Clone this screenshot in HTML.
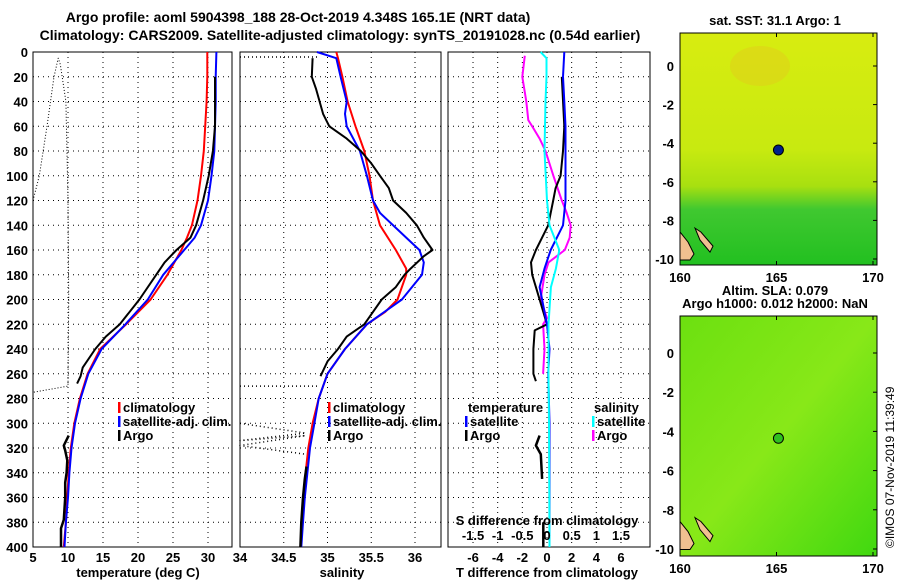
<!DOCTYPE html>
<html><head><meta charset="utf-8">
<style>
html,body{margin:0;padding:0;background:#fff;}
svg{display:block;font-family:"Liberation Sans",sans-serif;font-weight:bold;}
text{font-size:13px;fill:#000;}
</style></head>
<body>
<svg id="fig" width="900" height="580" viewBox="0 0 900 580" xmlns="http://www.w3.org/2000/svg">
<defs>
<linearGradient id="sstg" x1="0" y1="0" x2="0" y2="1">
<stop offset="0" stop-color="#d8ec10"/><stop offset="0.5" stop-color="#c8ea10"/>
<stop offset="0.66" stop-color="#a8e010"/><stop offset="0.76" stop-color="#40c830"/>
<stop offset="1" stop-color="#22c020"/></linearGradient>
<linearGradient id="slag" x1="0" y1="0" x2="1" y2="1">
<stop offset="0" stop-color="#6ce010"/><stop offset="0.5" stop-color="#88e818"/>
<stop offset="1" stop-color="#40d810"/></linearGradient>
</defs>
<text x="298" y="22" text-anchor="middle" style="font-size:14px">Argo profile: aoml 5904398_188 28-Oct-2019 4.348S 165.1E (NRT data)</text>
<text x="340" y="40" text-anchor="middle" style="font-size:14px">Climatology: CARS2009. Satellite-adjusted climatology: synTS_20191028.nc (0.54d earlier)</text>
<g id="p1"></g>
<g id="p2"></g>
<g id="p3"></g>
<g id="maps"></g>
<text transform="translate(894,548) rotate(-90)" style="font-size:12px;font-weight:normal">©IMOS 07-Nov-2019 11:39:49</text>
</svg>
<script>
// ---- data ----
const tClimDepth=[0,20,40,60,80,100,120,140,150,160,170,180,200,220,240,260,280,300,320,340,360,380,400];
const tClim=[29.9,29.9,29.8,29.6,29.4,29.0,28.5,27.7,27.0,26.2,25.2,24.2,21.8,18.3,14.6,12.8,11.7,10.9,10.4,10.1,9.9,9.7,9.4];
const tSat=[31.2,31.1,31.1,31.0,30.9,30.5,30.0,29.0,28.1,26.6,25.1,23.6,21.4,18.2,14.8,12.9,11.8,11.0,10.5,10.2,10.0,9.7,9.5];
const tArgoDepth1=[20,40,60,80,100,120,140,150,160,170,180,200,220,230,240,255,262,268];
const tArgo1=[31.0,31.0,31.0,30.7,30.1,29.3,28.3,27.5,25.5,23.8,22.6,20.2,17.4,15.4,13.9,12.1,11.8,11.3];
const tArgoDepth2=[310,318,322,330,340,348,360,378,385,400];
const tArgo2=[10.1,9.4,9.6,9.9,9.8,9.6,9.6,9.4,9.0,9.0];
const tBadDepth=[120,100,60,20,5,10,40,120,200,270,275];
const tBad=[5.0,5.9,7.0,8.0,8.6,8.9,9.7,10.0,10.1,10.0,5.0];
const sClimDepth=[0,5,20,40,60,80,100,120,140,160,175,180,200,210,220,240,260,280,300,320,340,360,380,400];
const sClim=[35.1,35.12,35.17,35.23,35.32,35.42,35.48,35.52,35.6,35.78,35.9,35.9,35.8,35.66,35.45,35.2,35.0,34.9,34.83,34.78,34.75,34.73,34.71,34.69];
const sSatDepth=[0,5,20,40,50,60,80,100,120,130,150,160,170,180,200,220,240,260,280,300,320,340,360,380,400];
const sSat=[34.88,35.1,35.15,35.22,35.2,35.22,35.37,35.45,35.52,35.6,35.9,36.05,36.1,36.08,35.85,35.45,35.2,35.0,34.9,34.85,34.8,34.77,34.74,34.72,34.7];
const sArgoDepth1=[5,20,30,50,60,70,80,90,100,110,120,130,140,150,160,165,175,180,190,200,210,220,230,240,250,262];
const sArgo1=[34.83,34.82,34.87,34.95,35.02,35.22,35.38,35.5,35.6,35.7,35.75,35.9,36.02,36.1,36.2,36.1,35.95,35.88,35.78,35.62,35.52,35.42,35.22,35.12,35.0,34.92];
const sArgoDepth2=[335,345,360,380,400];
const sArgo2=[34.76,34.74,34.72,34.7,34.69];
const dTSatDepth=[0,20,40,60,80,100,120,140,150,160,175,190,200,210,220,240,260,300,340,400];
const dTSat=[1.4,1.3,1.4,1.5,1.5,1.5,1.5,1.3,0.8,0.3,-0.2,-0.6,-0.4,-0.2,0.0,0.2,0.1,0.2,0.2,0.2];
const dTArgoDepth1=[20,60,80,100,110,120,130,140,150,160,170,180,190,200,210,220,225,240,260,266];
const dTArgo1=[1.2,1.4,1.3,1.1,0.7,0.5,0.3,0.1,-0.4,-0.9,-1.3,-1.2,-0.9,-0.6,-0.3,0.0,-1.0,-1.1,-1.1,-0.9];
const dTArgoDepth2=[310,318,325,345];
const dTArgo2=[-0.6,-0.9,-0.5,-0.4];
const dTArgoDepth3=[380,400];
const dTArgo3=[-0.3,-0.3];
const dSSatDepth=[0,5,20,40,80,120,140,150,160,175,190,220,260,300,400];
const dSSat=[-0.13,-0.01,-0.01,-0.03,-0.05,0,0.05,0.15,0.25,0.18,0.08,0.03,0.03,0.04,0.05];
const dSArgoDepth=[3,20,40,55,60,70,80,100,120,130,140,150,160,170,180,200,215,220,240,260];
const dSArgo=[-0.45,-0.5,-0.42,-0.38,-0.3,-0.15,-0.03,0.13,0.3,0.4,0.48,0.46,0.36,0.03,-0.05,-0.13,0,-0.08,-0.05,-0.08];
const depthTicks=[0,20,40,60,80,100,120,140,160,180,200,220,240,260,280,300,320,340,360,380,400];
const tTicks=[5,10,15,20,25,30];
const sTicks=[34,34.5,35,35.5,36];
const dTTicks=[-6,-4,-2,0,2,4,6];
const dSTickLabels=["-1.5","-1","-0.5","0","0.5","1","1.5"];
const dSTicks=[-1.5,-1,-0.5,0,0.5,1,1.5];
const lonTicks=[160,165,170];
const latTicks=[0,-2,-4,-6,-8,-10];

// ---- helpers ----
const NS="http://www.w3.org/2000/svg";
function mk(tag,attrs,parent){const e=document.createElementNS(NS,tag);for(const k in attrs)e.setAttribute(k,attrs[k]);parent.appendChild(e);return e;}
const TOP=52,BOT=547;
const yD=d=>TOP+d*(BOT-TOP)/400;
function panel(g,x0,x1,xs,xTicks,xLabels,name){
  const fr=mk('rect',{x:x0,y:TOP,width:x1-x0,height:BOT-TOP,fill:'none',stroke:'#000','stroke-width':1},g);
  
  
  depthTicks.forEach(d=>{if(d>0&&d<400){const l=mk('line',{x1:x0,x2:x1,y1:yD(d),y2:yD(d),stroke:'#000','stroke-dasharray':'1,4'},g);
    
    }});
  xTicks.forEach((v,i)=>{const x=xs(v);
    if(x>x0+1&&x<x1-1){const l=mk('line',{x1:x,x2:x,y1:TOP,y2:BOT,stroke:'#000','stroke-dasharray':'1,4'},g);
    
    }
    if(xLabels){const t=mk('text',{x:x,y:562,'text-anchor':'middle'},g);t.textContent=xLabels[i];
    
    }});
}
function line(g,xs,vals,depths,color,w,name,dash){
  const pts=vals.map((v,i)=>xs(v).toFixed(1)+','+yD(depths[i]).toFixed(1)).join(' ');
  const a={points:pts,fill:'none',stroke:color,'stroke-width':w,'stroke-linejoin':'round'};
  if(dash)a['stroke-dasharray']=dash;
  const p=mk('polyline',a,g);
  
  
}
function txt(g,x,y,s,name,anchor){const t=mk('text',{x:x,y:y,'text-anchor':anchor||'start'},g);t.textContent=s;
  
  return t;}
function legend(g,x,y,color,label,name){
  const r=mk('rect',{x:x,y:y-10,width:2.5,height:11,fill:color},g);
  
  
  txt(g,x+5,y,label,name);
}

// ---- panel 1: temperature ----
const p1=document.getElementById('p1');
const xT=v=>33+(v-5)*7.0;
panel(p1,33,232,xT,tTicks,tTicks.map(String),'temperature');
depthTicks.forEach(d=>txt(p1,28,yD(d)+5,String(d),'depth-tick-label','end'));
line(p1,xT,tBad,tBadDepth,'#000',1,'temperature-flagged-argo','1,2');
line(p1,xT,tClim,tClimDepth,'#f00',2,'temperature-climatology-line');
line(p1,xT,tSat,tClimDepth,'#00f',2,'temperature-satellite-line');
line(p1,xT,tArgo1,tArgoDepth1,'#000',2,'temperature-argo-line');
line(p1,xT,tArgo2,tArgoDepth2,'#000',2.5,'temperature-argo-deep-line');
legend(p1,118,412,'#f00','climatology','legend-climatology');
legend(p1,118,426,'#00f','satellite-adj. clim.','legend-satellite-adj');
legend(p1,118,440,'#000','Argo','legend-argo');
txt(p1,138,577,'temperature (deg C)','temperature-axis-title','middle');

// ---- panel 2: salinity ----
const p2=document.getElementById('p2');
const xS=v=>240+(v-34)*87.5;
panel(p2,240,441,xS,sTicks,sTicks.map(String),'salinity');
line(p2,xS,[34,34.9],[4,4],'#000',1.5,'salinity-flagged-top','1,3');
line(p2,xS,[34,34.9],[270,270],'#000',1.5,'salinity-flagged-mid','1,3');
line(p2,xS,[34,34.75,34,34.75,34,34.75],[300,308,314,310,318,325],'#000',1.5,'salinity-flagged-deep','1,3');
line(p2,xS,sClim,sClimDepth,'#f00',2,'salinity-climatology-line');
line(p2,xS,sSat,sSatDepth,'#00f',2,'salinity-satellite-line');
line(p2,xS,sArgo1,sArgoDepth1,'#000',2,'salinity-argo-line');
line(p2,xS,sArgo2,sArgoDepth2,'#000',2.5,'salinity-argo-deep-line');
legend(p2,328,412,'#f00','climatology','legend-climatology');
legend(p2,328,426,'#00f','satellite-adj. clim.','legend-satellite-adj');
legend(p2,328,440,'#000','Argo','legend-argo');
txt(p2,342,577,'salinity','salinity-axis-title','middle');

// ---- panel 3: differences ----
const p3=document.getElementById('p3');
const xDT=v=>547+v*12.33;
const xDS=v=>547+v*4*12.33;
panel(p3,448,650,xDT,dTTicks,dTTicks.map(String),'difference');
line(p3,xDS,dSArgo,dSArgoDepth,'#f0f',2,'salinity-diff-argo-line');
line(p3,xDT,dTArgo1,dTArgoDepth1,'#000',2,'temperature-diff-argo-line');
line(p3,xDT,dTArgo2,dTArgoDepth2,'#000',2.5,'temperature-diff-argo-deep-line');
line(p3,xDT,dTArgo3,dTArgoDepth3,'#000',2.5,'temperature-diff-argo-bottom-line');
line(p3,xDT,dTSat,dTSatDepth,'#00f',2,'temperature-diff-satellite-line');
line(p3,xDS,dSSat,dSSatDepth,'#0ff',2,'salinity-diff-satellite-line');
txt(p3,468,412,'temperature','legend-temperature-header');
legend(p3,465,426,'#00f','satellite','legend-t-satellite');
legend(p3,465,440,'#000','Argo','legend-t-argo');
txt(p3,594,412,'salinity','legend-salinity-header');
legend(p3,592,426,'#0ff','satellite','legend-s-satellite');
legend(p3,592,440,'#f0f','Argo','legend-s-argo');
txt(p3,547,525,'S difference from climatology','s-diff-axis-title','middle');
dSTicks.forEach((v,i)=>txt(p3,xDS(v),540,dSTickLabels[i],'s-diff-tick-label','middle'));
txt(p3,547,577,'T difference from climatology','t-diff-axis-title','middle');

// ---- maps ----
const mg=document.getElementById('maps');
function map(top,bot,lat0,lat10,fill,title,name,dotColor){
  const x0=680,x1=877;
  const r=mk('rect',{x:x0,y:top,width:x1-x0,height:bot-top,fill:fill},mg);
  
  
  const yl=l=>lat0+(lat10-lat0)*(-l)/10;
  const xl=l=>680+(l-160)*19.3;
  const land=mk('path',{d:`M${x0} ${yl(-8.6)} l8 10 l6 12 l-4 6 l-10 0 Z M${x0+15} ${yl(-8.4)} l6 4 l12 14 l-3 6 l-10 -12 Z`,fill:'#f0c090',stroke:'#000','stroke-width':1},mg);
  
  
  const fr=mk('rect',{x:x0,y:top,width:x1-x0,height:bot-top,fill:'none',stroke:'#000'},mg);
  
  
  lonTicks.forEach(v=>{mk('line',{x1:xl(v),x2:xl(v),y1:top,y2:top+4,stroke:'#000'},mg);mk('line',{x1:xl(v),x2:xl(v),y1:bot,y2:bot-4,stroke:'#000'},mg);
    txt(mg,xl(v),bot+17,String(v),name+'-lon-label','middle');});
  latTicks.forEach(v=>{mk('line',{x1:x1,x2:x1-4,y1:yl(v),y2:yl(v),stroke:'#000'},mg);
    txt(mg,x0-6,yl(v)+5,String(v),name+'-lat-label','end');});
  const c=mk('circle',{cx:xl(165.1),cy:yl(-4.35),r:5,fill:dotColor,stroke:'#000','stroke-width':1},mg);
  
  
  title.forEach((t,i)=>txt(mg,775,top-8-(title.length-1-i)*13,t,name+'-title','middle'));
}
map(33,265,66,259,'url(#sstg)',['sat. SST: 31.1 Argo: 1'],'sst-map','#00208a');
const wp=mk('ellipse',{cx:760,cy:66,rx:30,ry:20,fill:'#e8c020',opacity:0.35},mg);


map(316,556,353,549,'url(#slag)',['Altim. SLA: 0.079','Argo h1000: 0.012 h2000: NaN'],'sla-map','#30c020');
</script>
</body></html>
